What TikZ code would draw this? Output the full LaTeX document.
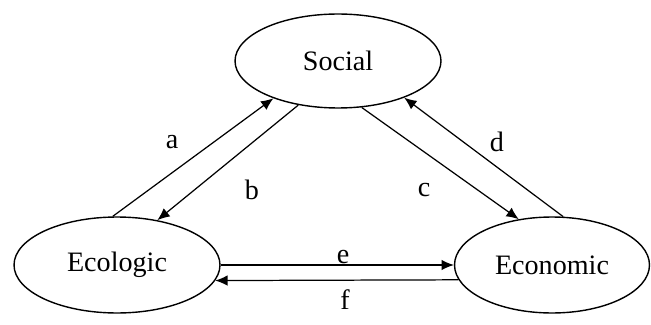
\documentclass[tikz,border=0pt]{standalone}
\usepackage{fontspec}
\setmainfont{Liberation Serif}
\usetikzlibrary{shapes.geometric,arrows.meta}
\begin{document}
\begin{tikzpicture}[x=0.02cm,y=-0.02cm,
  sector/.style={ellipse,draw,line width=0.8pt,inner sep=0pt,font=\fontsize{16}{18}\selectfont},
  link/.style={line width=0.7pt,-{Latex[length=7pt,width=6pt]}},
  lbl/.style={font=\fontsize{16}{18}\selectfont}]
\useasboundingbox (0,0) rectangle (651,324);
\node[sector,minimum width=4.12cm,minimum height=1.88cm] (soc) at (338,61) {Social};
\node[sector,minimum width=4.12cm,minimum height=1.92cm] (eco) at (117,265) {Ecologic};
\node[sector,minimum width=3.9cm,minimum height=1.92cm] (econ) at (552,265) {Economic};
\draw[link] (eco.95) -- (soc.210);
\draw[link] (soc.228) -- (eco.48);
\draw[link] (soc.297) -- (econ.126);
\draw[link] (econ.77) -- (soc.331);
\draw[link] (eco.0) -- (econ.180);
\draw[link] (econ.189) -- (eco.351);
\node[lbl] (la) at (172,142) {a};
\node[lbl] (lb) at (252,190) {b};
\node[lbl] (lc) at (424,190) {c};
\node[lbl] (ld) at (497,142) {d};
\node[lbl] (le) at (343,257) {e};
\node[lbl] (lf) at (345,300) {f};
\end{tikzpicture}
\end{document}
